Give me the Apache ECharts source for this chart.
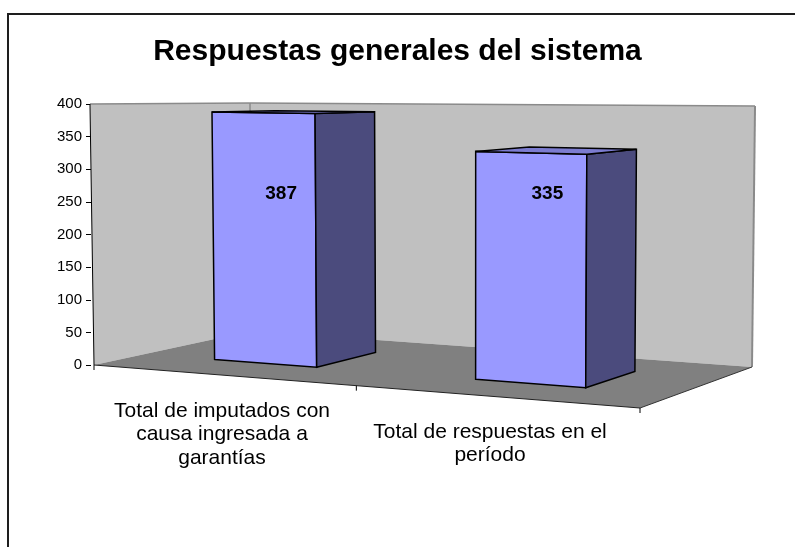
<!DOCTYPE html>
<html>
<head>
<meta charset="utf-8">
<script src="https://cdn.jsdelivr.net/npm/echarts@6/dist/echarts.min.js"></script>
<style>
  html, body { margin: 0; padding: 0; background: #fff; }
  #chart { width: 795px; height: 547px; }
</style>
</head>
<body>
<div id="chart"></div>
<script>
  // datos del grafico
  var categorias = ['Total de imputados con\ncausa ingresada a\ngarantías', 'Total de respuestas en el\nperíodo'];
  var valores = [387, 335];
  var yMin = 0, yMax = 400, yIntervalo = 50;

  // perspectiva del piso: frente-izq, frente-der, fondo-der, fondo-izq
  var piso = [[94, 365], [640, 408], [752, 367], [252, 331]];
  var H = homografia(piso);
  var escalaU = 33, escalaW = 33, altoRef = 261;   // variacion de la escala vertical
  var inclinacion = 0.0107, centroX = 470;          // las verticales se abren un poco

  // barras (en unidades del piso)
  var anchoU = 0.1, desfaseU = -0.01, w0 = 0.3, w1 = 0.71;
  var nivelEtiqueta = 263, desfaseEtiqueta = 0.031;

  function homografia(q) {
    var x0 = q[0][0], y0 = q[0][1], x1 = q[1][0], y1 = q[1][1];
    var x2 = q[2][0], y2 = q[2][1], x3 = q[3][0], y3 = q[3][1];
    var dx1 = x1 - x2, dx2 = x3 - x2, dx3 = x0 - x1 + x2 - x3;
    var dy1 = y1 - y2, dy2 = y3 - y2, dy3 = y0 - y1 + y2 - y3;
    var det = dx1 * dy2 - dx2 * dy1;
    var g = (dx3 * dy2 - dx2 * dy3) / det;
    var h = (dx1 * dy3 - dx3 * dy1) / det;
    return { a: x1 - x0 + g * x1, b: x3 - x0 + h * x3, c: x0,
             d: y1 - y0 + g * y1, e: y3 - y0 + h * y3, f: y0, g: g, h: h };
  }

  // (u, w) en el piso + altura en px del eje -> pantalla
  function proy(u, w, hpx) {
    var den = H.g * u + H.h * w + 1;
    var x = (H.a * u + H.b * w + H.c) / den;
    var y = (H.d * u + H.e * w + H.f) / den;
    var alto = hpx * (1 + (escalaU * u - escalaW * w) / altoRef);
    x += inclinacion * (x - centroX) * alto / altoRef;
    return [x, y - alto];
  }

  function poly(pts, fill, stroke, lw) {
    return { type: 'polygon', shape: { points: pts },
      style: { fill: fill, stroke: stroke || 'none', lineWidth: lw || 0 } };
  }
  function linea(p, q, color, lw) {
    return { type: 'line', shape: { x1: p[0], y1: p[1], x2: q[0], y2: q[1] },
      style: { stroke: color, lineWidth: lw } };
  }

  var chart = echarts.init(document.getElementById('chart'));

  chart.setOption({
    backgroundColor: '#fff',
    animation: false,
    title: {
      text: 'Respuestas generales del sistema',
      left: 'center',
      top: 32,
      padding: [5, 0, 5, 10],
      textStyle: { fontFamily: 'Liberation Sans', fontSize: 30, fontWeight: 'bold', color: '#000' }
    },
    graphic: [{
      type: 'rect',
      shape: { x: 8, y: 14, width: 820, height: 580 },
      style: { fill: 'none', stroke: '#1e1e1e', lineWidth: 2 },
      z: 100
    }],
    grid: { left: 88, top: 104, width: 536, height: 261 },
    xAxis: {
      type: 'category',
      data: categorias.map(function (c, i) {
        return i === 0 ? c : { value: c, textStyle: { padding: [21, 0, 0, 0] } };
      }),
      axisLine: { show: false },
      axisTick: { show: false },
      axisLabel: {
        interval: 0,
        margin: 34,
        fontFamily: 'Liberation Sans',
        fontSize: 21,
        lineHeight: 23.5,
        color: '#000'
      },
      splitLine: { show: false }
    },
    yAxis: {
      type: 'value',
      min: yMin,
      max: yMax,
      interval: yIntervalo,
      offset: -3,
      axisLine: { show: false },
      axisTick: { show: true, length: 5, lineStyle: { color: '#000', width: 1 } },
      axisLabel: { margin: 9, fontFamily: 'Liberation Sans', fontSize: 15, color: '#000' },
      splitLine: { show: false }
    },
    series: [
      {
        // paredes y piso
        type: 'custom',
        z: 1,
        data: [[0, yMax]],
        renderItem: function (params, api) {
          var base = api.coord([0, yMin]);
          var tope = api.coord([0, api.value(1)]);
          var hm = base[1] - tope[1];
          var FL = proy(0, 0, 0), FR = proy(1, 0, 0), BR = proy(1, 1, 0), BL = proy(0, 1, 0);
          var FLt = proy(0, 0, hm), BLt = proy(0, 1, hm), BRt = proy(1, 1, hm);
          var hijos = [
            poly([FL, BL, BLt, FLt], '#c0c0c0'),
            poly([BL, BR, BRt, BLt], '#c0c0c0'),
            poly([FL, FR, BR, BL], '#808080'),
            linea(FLt, BLt, '#8a8a8a', 1.5),
            linea(BLt, BRt, '#8a8a8a', 1.5),
            linea(BL, BLt, '#8a8a8a', 1.5),
            linea(BR, BRt, '#8a8a8a', 2),
            linea(FL, FLt, '#000', 1),
            linea(FL, FR, '#222', 1),
            linea(FR, BR, '#333', 1)
          ];
          [0, 0.5, 1].forEach(function (u) {
            var p = proy(u, 0, 0);
            hijos.push(linea(p, [p[0], p[1] + 5], '#000', 1));
          });
          return { type: 'group', children: hijos };
        }
      },
      {
        // barras 3D
        type: 'custom',
        z: 2,
        data: valores.map(function (v, i) { return [i, v]; }),
        renderItem: function (params, api) {
          var cs = params.coordSys;
          var i = api.value(0);
          var base = api.coord([i, yMin]);
          var tope = api.coord([i, api.value(1)]);
          var h = base[1] - tope[1];
          var uc = (base[0] - cs.x) / cs.width + desfaseU;
          var u0 = uc - anchoU, u1 = uc + anchoU;
          var frente = [proy(u0, w0, 0), proy(u1, w0, 0), proy(u1, w0, h), proy(u0, w0, h)];
          var lado = [proy(u1, w0, 0), proy(u1, w1, 0), proy(u1, w1, h), proy(u1, w0, h)];
          var arriba = [proy(u0, w0, h), proy(u1, w0, h), proy(u1, w1, h), proy(u0, w1, h)];
          var pe = proy(uc + desfaseEtiqueta, w0, 0);
          var ye = api.coord([i, nivelEtiqueta])[1];
          return {
            type: 'group',
            children: [
              poly(frente, '#9999ff', '#000', 1.5),
              poly(lado, '#4b4b7d', '#000', 1.5),
              poly(arriba, '#7c7cd0', '#000', 1.5),
              {
                type: 'text',
                style: {
                  text: String(api.value(1)),
                  x: pe[0], y: ye,
                  align: 'center', verticalAlign: 'middle',
                  font: 'bold 19px "Liberation Sans"',
                  fill: '#000'
                }
              }
            ]
          };
        }
      }
    ]
  });

  window.addEventListener('resize', function () { chart.resize(); });
</script>
</body>
</html>
